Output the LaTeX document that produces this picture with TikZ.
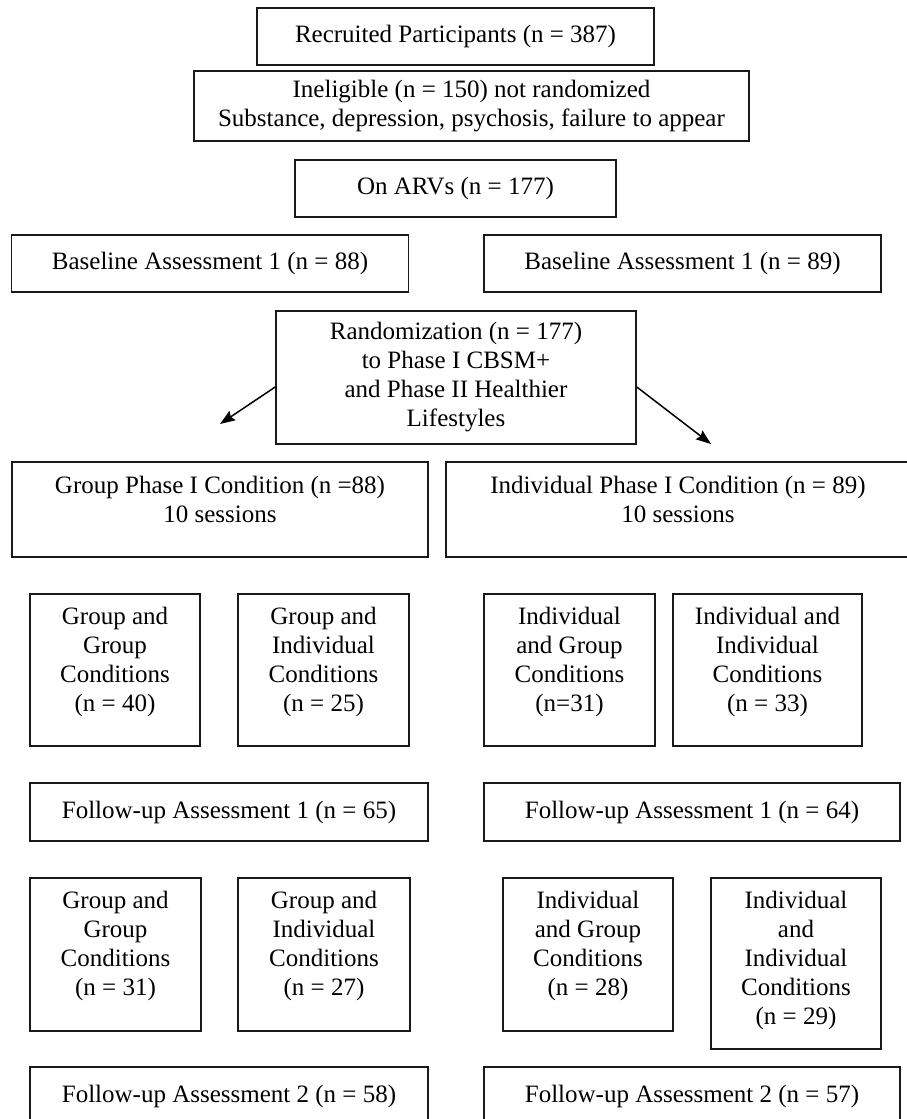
\documentclass[tikz,border=0pt]{standalone}
\usepackage{fontspec}
\setmainfont{Liberation Serif}
\usetikzlibrary{arrows.meta}
\begin{document}
\begin{tikzpicture}[x=1pt,y=-1pt,
  box/.style={draw=black!90, line width=1.6pt, rectangle, align=center, inner sep=0pt,
    font=\fontsize{25}{29}\selectfont},
  up/.style={text depth=#1},
  arr/.style={line width=1.5pt, -{Stealth[length=15pt,width=11pt,inset=2pt]}}]
\useasboundingbox (0,0) rectangle (906,1119);
% top chain
\node[box, minimum width=397, minimum height=57] (rec) at (455.5,36.5) {Recruited Participants (n = 387)};
\node[box, minimum width=555, minimum height=70] (inel) at (471.5,106) {Ineligible (n = 150) not randomized\\Substance, depression, psychosis, failure to appear};
\node[box, minimum width=321, minimum height=57] (arv) at (455.5,188.5) {On ARVs (n = 177)};
\node[box, minimum width=397, minimum height=57] (bl1) at (210,263.5) {Baseline Assessment 1 (n = 88)};
\node[box, minimum width=397, minimum height=57] (bl2) at (682.5,263.5) {Baseline Assessment 1 (n = 89)};
\node[box, minimum width=360, minimum height=133] (rand) at (456,377.5) {Randomization (n = 177)\\to Phase I CBSM+\\and Phase II Healthier\\Lifestyles};
% arrows
\coordinate (la) at (220,424);
\coordinate (ra) at (711,444);
\draw[arr] ([yshift=-9.5]rand.west) -- (la);
\draw[arr] ([yshift=-9.5]rand.east) -- (ra);
% phase I
\node[box, up=21pt, minimum width=416, minimum height=95] (gp1) at (220,509.5) {Group Phase I Condition (n =88)\\10 sessions};
\node[box, up=21pt, minimum width=464, minimum height=95] (ip1) at (678,509.5) {Individual Phase I Condition (n = 89)\\10 sessions};
% first split
\node[box, up=21pt, minimum width=170, minimum height=152] (gg1) at (115,670) {Group and\\Group\\Conditions\\(n = 40)};
\node[box, up=21pt, minimum width=171, minimum height=152] (gi1) at (323.5,670) {Group and\\Individual\\Conditions\\(n = 25)};
\node[box, up=21pt, minimum width=171, minimum height=152] (ig1) at (569.5,670) {Individual\\and Group\\Conditions\\(n=31)};
\node[box, up=21pt, minimum width=189, minimum height=152] (ii1) at (767.5,670) {Individual and\\Individual\\Conditions\\(n = 33)};
% follow-up 1
\node[box, minimum width=398, minimum height=58] (fu1l) at (229,812) {Follow-up Assessment 1 (n = 65)};
\node[box, minimum width=416, minimum height=58] (fu1r) at (692,812) {Follow-up Assessment 1 (n = 64)};
% second split
\node[box, up=22pt, minimum width=171, minimum height=153] (gg2) at (115.5,954.5) {Group and\\Group\\Conditions\\(n = 31)};
\node[box, up=22pt, minimum width=172, minimum height=153] (gi2) at (324,954.5) {Group and\\Individual\\Conditions\\(n = 27)};
\node[box, up=22pt, minimum width=170, minimum height=153] (ig2) at (588,954.5) {Individual\\and Group\\Conditions\\(n = 28)};
\node[box, up=12pt, minimum width=170, minimum height=171] (ii2) at (796,963.5) {Individual\\and\\Individual\\Conditions\\(n = 29)};
% follow-up 2
\node[box, minimum width=398, minimum height=58] (fu2l) at (229,1096) {Follow-up Assessment 2 (n = 58)};
\node[box, minimum width=416, minimum height=58] (fu2r) at (692,1096) {Follow-up Assessment 2 (n = 57)};
\end{tikzpicture}
\end{document}
